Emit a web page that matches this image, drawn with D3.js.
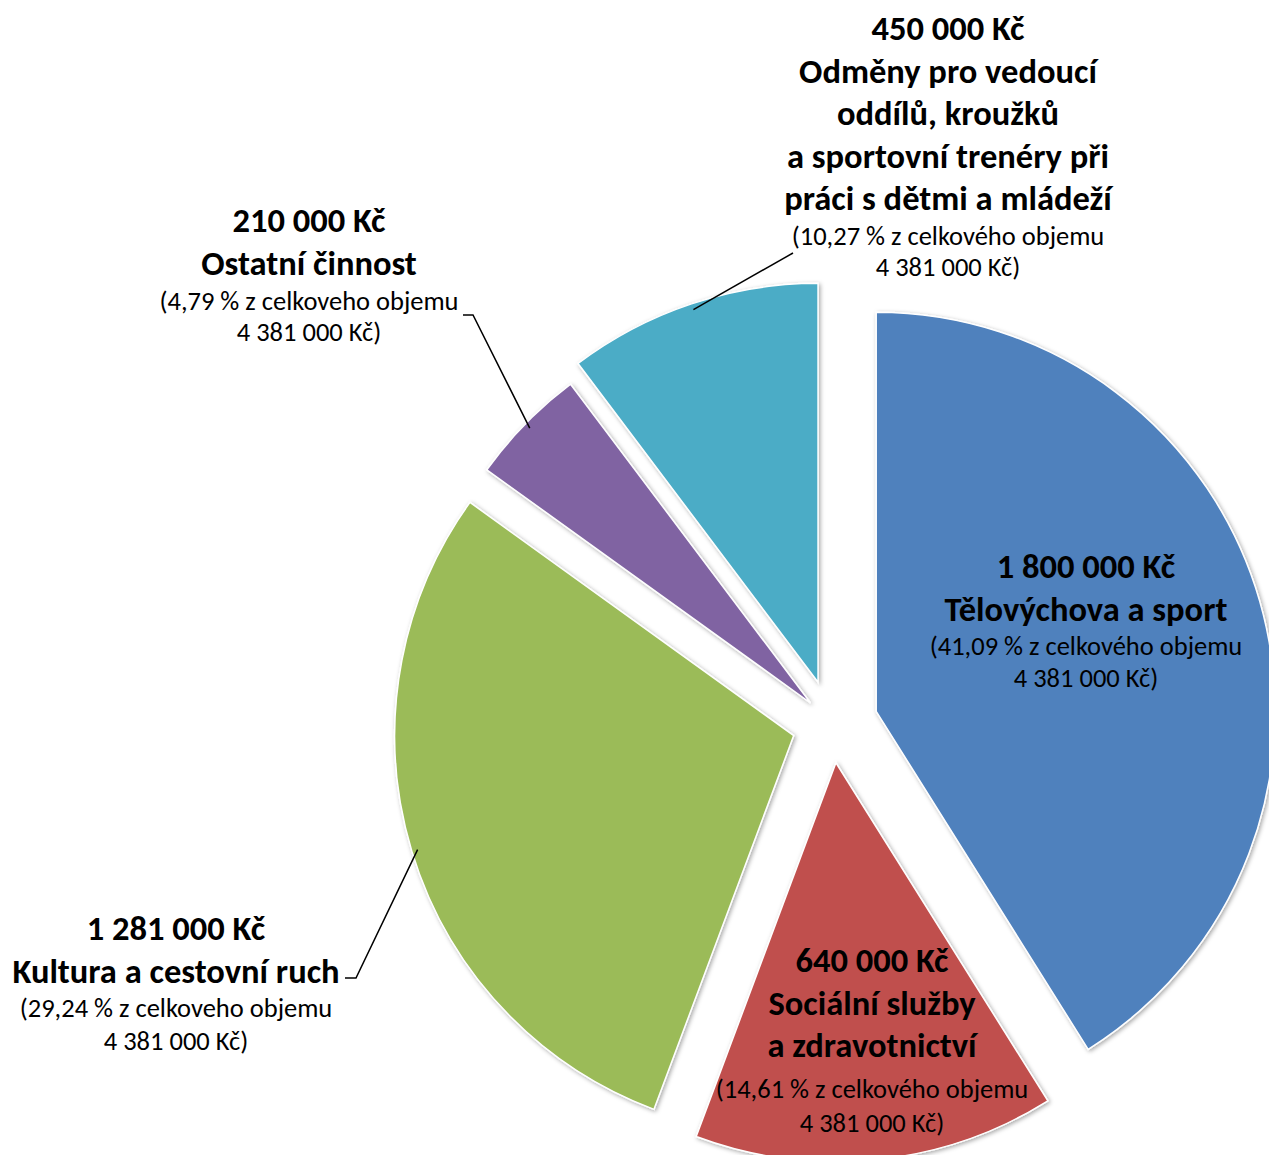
<!DOCTYPE html>
<html>
<head>
<meta charset="utf-8">
<script src="https://cdn.jsdelivr.net/npm/d3@7"></script>
<style>
  body { margin: 0; background: #fff; }
  svg { display: block; }
  text { font-family: Carlito, Calibri, Lato, sans-serif; fill: #000; }
</style>
</head>
<body>
<svg id="chart"></svg>
<script>
// data
const categories = [
    ['Tělovýchova a sport'],
    ['Sociální služby', 'a zdravotnictví'],
    ['Kultura a cestovní ruch'],
    ['Ostatní činnost'],
    ['Odměny pro vedoucí', 'oddílů, kroužků', 'a sportovní trenéry při', 'práci s dětmi a mládeží']
];
const amounts = [1800000, 640000, 1281000, 210000, 450000];
const shareWords = ['celkového', 'celkového', 'celkoveho', 'celkoveho', 'celkového'];

// styles / layout
const colors = ['#4F81BD', '#C0504D', '#9BBB59', '#8064A2', '#4BACC6'];
const width = 1269, height = 1155;
const cx = 832, cy = 724, radius = 399;
const explode = [46, 39, 40, 30, 44];             // px each slice is pulled out
const labelAt = [[1086, 566], [872, 960], [176, 928], [309, 220], [948, 28]]; // centre x, first line y
const leaderFrom = [null, null, [[345, 978], [356, 978]], [[463, 315], [473, 315]], [[793, 253]]];

const boldSize = 34.5, normalSize = 26.5;
const boldStep = 42.5;
const gapStep = [37, 44, 37, 38, 38], normalStep = [32, 34, 33, 31, 31];

const locale = d3.formatLocale({ decimal: ',', thousands: '\u00a0', grouping: [3], currency: ['', ''] });
const fmtMoney = v => locale.format(',')(v) + ' Kč';
const fmtPct = locale.format('.2f');
const total = d3.sum(amounts);

const svg = d3.select('#chart')
    .attr('width', width)
    .attr('height', height);

const defs = svg.append('defs');
defs.append('filter')
    .attr('id', 'shadow')
    .attr('x', '-10%').attr('y', '-10%')
    .attr('width', '120%').attr('height', '120%')
    .append('feDropShadow')
    .attr('dx', 1.5).attr('dy', 1.5)
    .attr('stdDeviation', 2)
    .attr('flood-color', '#000')
    .attr('flood-opacity', 0.35);

const pie = d3.pie().sort(null).value(d => d);
const arcs = pie(amounts);
const arc = d3.arc().innerRadius(0).outerRadius(radius);

const mid = a => (a.startAngle + a.endAngle) / 2;
const offset = (a, i) => [Math.sin(mid(a)) * explode[i], -Math.cos(mid(a)) * explode[i]];

const g = svg.append('g').attr('transform', `translate(${cx},${cy})`);

g.selectAll('path.slice')
    .data(arcs)
    .join('path')
    .attr('class', 'slice')
    .attr('transform', (a, i) => `translate(${offset(a, i)})`)
    .attr('d', arc)
    .attr('fill', (a, i) => colors[i])
    .attr('stroke', '#fff')
    .attr('stroke-width', 1.5)
    .attr('filter', 'url(#shadow)');

// leader lines for outside labels
arcs.forEach((a, i) => {
    if (!leaderFrom[i]) return;
    const [ox, oy] = offset(a, i);
    const end = [cx + ox + Math.sin(mid(a)) * radius * 0.985, cy + oy - Math.cos(mid(a)) * radius * 0.985];
    svg.append('path')
        .attr('d', d3.line()([...leaderFrom[i], end]))
        .attr('fill', 'none')
        .attr('stroke', '#000')
        .attr('stroke-width', 1.5);
});

// labels
arcs.forEach((a, i) => {
    const lines = [];
    lines.push({ t: fmtMoney(amounts[i]), bold: true });
    categories[i].forEach(t => lines.push({ t, bold: true }));
    lines.push({ t: `(${fmtPct(amounts[i] / total * 100)} % z ${shareWords[i]} objemu`, bold: false });
    lines.push({ t: `${fmtMoney(total)})`, bold: false });

    const [lx, ly] = labelAt[i];
    let y = ly;
    const text = svg.append('g').attr('class', 'label');
    lines.forEach((l, k) => {
        if (k > 0) y += l.bold ? boldStep : (lines[k - 1].bold ? gapStep[i] : normalStep[i]);
        text.append('text')
            .attr('x', lx)
            .attr('y', y)
            .attr('dy', '0.35em')
            .attr('text-anchor', 'middle')
            .attr('font-size', l.bold ? boldSize : normalSize)
            .attr('font-weight', l.bold ? 'bold' : 'normal')
            .text(l.t);
    });
});
</script>
</body>
</html>
